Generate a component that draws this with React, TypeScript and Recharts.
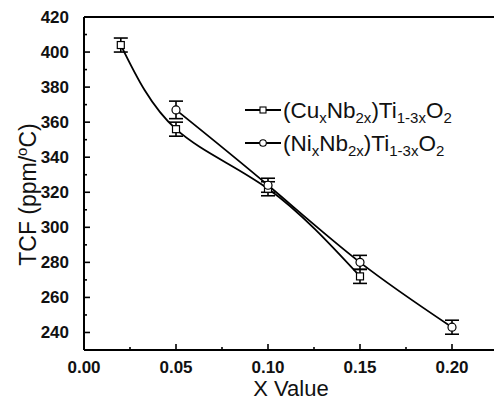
import React from 'react';
import { LineChart, Line, XAxis, YAxis, ErrorBar, Customized } from 'recharts';

const X_CU = [0.02, 0.05, 0.1, 0.15];
const CU = [404, 356, 322, 272];
const CU_ERR = [4, 4, 4, 4];

const X_NI = [0.05, 0.1, 0.15, 0.2];
const NI = [367, 324, 280, 243];
const NI_ERR = [5, 4, 4, 4];

const X_TICKS = [0, 0.025, 0.05, 0.075, 0.1, 0.125, 0.15, 0.175, 0.2, 0.225];
const Y_TICKS = [230, 240, 250, 260, 270, 280, 290, 300, 310, 320, 330, 340, 350, 360, 370, 380, 390, 400, 410, 420];
const Y_MAJOR = [240, 260, 280, 300, 320, 340, 360, 380, 400, 420];

const cuData = X_CU.map((x, i) => ({ x, y: CU[i], err: CU_ERR[i] }));
const niData = X_NI.map((x, i) => ({ x, y: NI[i], err: NI_ERR[i] }));

const FONT = 'Liberation Sans, Arial, sans-serif';

const isMajor = (v: number, step: number) => Math.abs(v / step - Math.round(v / step)) < 1e-6;

const XTick = (props: any) => {
  const { x, y, payload } = props;
  const v = payload.value as number;
  const major = isMajor(v, 0.05);
  return (
    <g>
      <line x1={x} x2={x} y1={y} y2={y - (major ? 6 : 3)} stroke="#000" strokeWidth={1.6} />
      {major && v <= 0.2 + 1e-9 && (
        <text x={x} y={y + 23} textAnchor="middle" fontFamily={FONT} fontWeight="bold" fontSize={17} fill="#111">
          {v.toFixed(2)}
        </text>
      )}
    </g>
  );
};

const YTick = (props: any) => {
  const { x, y, payload } = props;
  const v = payload.value as number;
  const major = isMajor(v, 20);
  return (
    <g>
      <line x1={x} x2={x + (major ? 6 : 3)} y1={y} y2={y} stroke="#000" strokeWidth={1.6} />
      {major && (
        <text x={x - 15} y={y + 6} textAnchor="end" fontFamily={FONT} fontWeight="bold" fontSize={17} fill="#111">
          {v}
        </text>
      )}
    </g>
  );
};

const RTick = (props: any) => {
  const { x, y } = props;
  return <line x1={x} x2={x - 5} y1={y} y2={y} stroke="#000" strokeWidth={1.6} />;
};

const SquareDot = (props: any) => {
  const { cx, cy } = props;
  if (cx == null || cy == null) return null;
  return <rect x={cx - 3.5} y={cy - 3.5} width={7} height={7} fill="#fff" stroke="#000" strokeWidth={1.2} />;
};

const CircleDot = (props: any) => {
  const { cx, cy } = props;
  if (cx == null || cy == null) return null;
  return <circle cx={cx} cy={cy} r={4} fill="#fff" stroke="#000" strokeWidth={1.2} />;
};

const Formula = ({ x, y, el }: { x: number; y: number; el: string }) => (
  <text x={x} y={y} fontFamily={FONT} fontSize={22.5} fill="#111">
    <tspan>{'(' + el}</tspan>
    <tspan fontSize={15} dy={5}>x</tspan>
    <tspan dy={-5}>Nb</tspan>
    <tspan fontSize={15} dy={5}>2x</tspan>
    <tspan dy={-5}>)Ti</tspan>
    <tspan fontSize={15} dy={5}>1-3x</tspan>
    <tspan dy={-5}>O</tspan>
    <tspan fontSize={15} dy={5}>2</tspan>
  </text>
);

const LegendBox = () => {
  const rows = [
    { el: 'Cu', cy: 110, shape: 'square' },
    { el: 'Ni', cy: 143, shape: 'circle' },
  ];
  return (
    <g>
      {rows.map((r) => (
        <g key={r.el}>
          <line x1={245} x2={281} y1={r.cy} y2={r.cy} stroke="#000" strokeWidth={2} />
          {r.shape === 'square' ? (
            <rect x={263 - 3} y={r.cy - 3} width={6} height={6} fill="#fff" stroke="#000" strokeWidth={1.1} />
          ) : (
            <circle cx={263} cy={r.cy} r={3.3} fill="#fff" stroke="#000" strokeWidth={1.1} />
          )}
          <Formula x={283} y={r.cy + 8} el={r.el} />
        </g>
      ))}
    </g>
  );
};

export default function App() {
  return (
    <div style={{ position: 'fixed', left: 0, top: 0, width: 494, height: 401, overflow: 'hidden', background: '#fff' }}>
      <LineChart width={512} height={401} margin={{ top: 16, right: 13, bottom: 50, left: 83 }}>
        <XAxis
          xAxisId={0}
          type="number"
          dataKey="x"
          domain={[0, 0.225]}
          ticks={X_TICKS}
          allowDataOverflow
          height={1}
          tickSize={0}
          tickMargin={0}
          tickLine={false}
          axisLine={{ stroke: '#000', strokeWidth: 2 }}
          tick={<XTick />}
          interval={0}
          label={{
            content: (p: any) => {
              const vb = p.viewBox || { x: 84, y: 350, width: 413 };
              return (
                <text x={vb.x + vb.width / 2} y={vb.y + 46} textAnchor="middle" fontFamily={FONT} fontSize={22} fill="#111">
                  X Value
                </text>
              );
            },
          }}
        />
        <XAxis
          xAxisId="top"
          orientation="top"
          type="number"
          domain={[0, 0.225]}
          height={1}
          tick={false}
          tickLine={false}
          axisLine={{ stroke: '#000', strokeWidth: 2 }}
        />
        <YAxis
          yAxisId={0}
          type="number"
          domain={[230, 420]}
          ticks={Y_TICKS}
          allowDataOverflow
          width={1}
          tickSize={0}
          tickMargin={0}
          tickLine={false}
          axisLine={{ stroke: '#000', strokeWidth: 2 }}
          tick={<YTick />}
          interval={0}
          label={{
            content: (p: any) => {
              const vb = p.viewBox || { y: 17, height: 333 };
              const cy = vb.y + vb.height / 2 + 11;
              return (
                <text x={36} y={cy} transform={`rotate(-90, 36, ${cy})`} textAnchor="middle" fontFamily={FONT} fontSize={23} fill="#111">
                  TCF (ppm/
                  <tspan fontSize={15} dy={-9}>o</tspan>
                  <tspan dy={9}>C)</tspan>
                </text>
              );
            },
          }}
        />
        <YAxis
          yAxisId="right"
          orientation="right"
          type="number"
          domain={[230, 420]}
          ticks={Y_MAJOR}
          width={1}
          tickSize={0}
          tickMargin={0}
          tickLine={false}
          axisLine={false}
          tick={<RTick />}
          interval={0}
        />
        <Line
          data={cuData}
          dataKey="y"
          type="natural"
          stroke="#000"
          strokeWidth={1.8}
          dot={<SquareDot />}
          activeDot={false}
          isAnimationActive={false}
        >
          <ErrorBar dataKey="err" width={7} stroke="#000" strokeWidth={1.6} direction="y" />
        </Line>
        <Line
          data={niData}
          dataKey="y"
          type="natural"
          stroke="#000"
          strokeWidth={1.8}
          dot={<CircleDot />}
          activeDot={false}
          isAnimationActive={false}
        >
          <ErrorBar dataKey="err" width={7} stroke="#000" strokeWidth={1.6} direction="y" />
        </Line>
        <Customized component={<LegendBox />} />
      </LineChart>
    </div>
  );
}
